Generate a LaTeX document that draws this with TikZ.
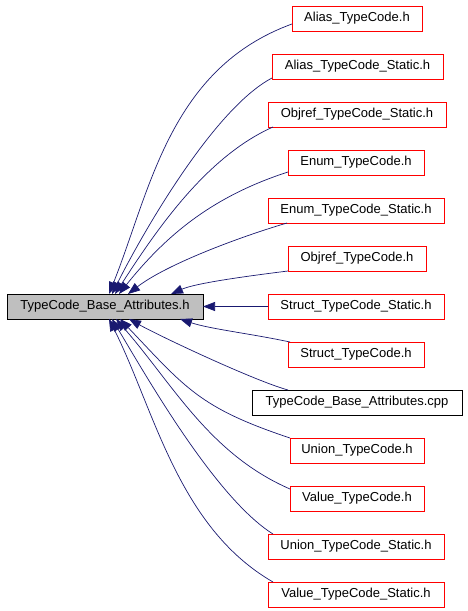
\documentclass[tikz,border=0pt]{standalone}
\usepackage{fontspec}
\setmainfont{Liberation Sans}
\usetikzlibrary{arrows.meta}
\definecolor{edgeblue}{HTML}{191970}
\definecolor{boxgray}{HTML}{BFBFBF}
\begin{document}
\begin{tikzpicture}[x=1pt,y=-1pt,
  fbox/.style={draw, line width=0.8pt, minimum height=25pt, inner sep=0pt, outer sep=0pt,
    font=\fontsize{13}{15}\selectfont, anchor=center},
  redbox/.style={fbox, draw=red},
  blackbox/.style={fbox, draw=black},
  mainbox/.style={fbox, draw=black, fill=boxgray},
  edge/.style={draw=edgeblue, line width=0.7pt, -{Triangle[length=12pt,width=9pt]}, edgeblue}
]
\useasboundingbox (0,0) rectangle (467,611);

\node[mainbox, minimum width=196pt] (main) at (105,306.5) {TypeCode\_Base\_Attributes.h};

\node[redbox, minimum width=130pt] (n1) at (357,18.5) {Alias\_TypeCode.h};
\node[redbox, minimum width=171pt] (n2) at (357.5,66.5) {Alias\_TypeCode\_Static.h};
\node[redbox, minimum width=178pt] (n3) at (357,114.5) {Objref\_TypeCode\_Static.h};
\node[redbox, minimum width=136pt] (n4) at (356,162.5) {Enum\_TypeCode.h};
\node[redbox, minimum width=176pt] (n5) at (356,210.5) {Enum\_TypeCode\_Static.h};
\node[redbox, minimum width=138pt] (n6) at (357,258.5) {Objref\_TypeCode.h};
\node[redbox, minimum width=176pt] (n7) at (356,306.5) {Struct\_TypeCode\_Static.h};
\node[redbox, minimum width=136pt] (n8) at (356,354.5) {Struct\_TypeCode.h};
\node[blackbox, minimum width=210pt] (n9) at (357,402.5) {TypeCode\_Base\_Attributes.cpp};
\node[redbox, minimum width=134pt] (n10) at (357,450.5) {Union\_TypeCode.h};
\node[redbox, minimum width=134pt] (n11) at (357,498.5) {Value\_TypeCode.h};
\node[redbox, minimum width=176pt] (n12) at (356,546.5) {Union\_TypeCode\_Static.h};
\node[redbox, minimum width=176pt] (n13) at (356,594.5) {Value\_TypeCode\_Static.h};

\path[edge] ([yshift=-5.5pt]n1.west) .. controls (169.4,68.6) and (150.3,190.7) .. ([xshift=4pt]main.north);
\path[edge] ([yshift=1pt]n2.south west) .. controls (212.3,109.4) and (139.7,238.6) .. ([xshift=7pt]main.north);
\path[edge] ([xshift=5pt]n3.south west) .. controls (205,157.2) and (154.9,232.6) .. ([xshift=10pt]main.north);
\path[edge] ([yshift=3pt]n4.south west) .. controls (212.7,196.3) and (166.2,235) .. ([xshift=14pt]main.north);
\path[edge] ([xshift=19pt]n5.south west) .. controls (240.4,236.7) and (167,264) .. ([xshift=23pt]main.north);
\path[edge] (n6.south west) .. controls (248,276) and (196,283) .. ([xshift=66pt]main.north);
\path[edge] (n7.west) -- (main.east);
\path[edge] ([xshift=2pt]n8.north west) .. controls (250,333.5) and (210,329) .. ([xshift=75pt]main.south);
\path[edge] ([xshift=36pt]n9.north west) .. controls (253.8,380.5) and (160.5,336.5) .. ([xshift=24pt]main.south);
\path[edge] (n10.north west) .. controls (199.1,407.7) and (185.7,388) .. ([xshift=15pt]main.south);
\path[edge] ([yshift=-3pt]n11.north west) .. controls (209.3,453.9) and (173,384.2) .. ([xshift=11pt]main.south);
\path[edge] ([xshift=5pt]n12.north west) .. controls (215.4,498) and (145.6,375) .. ([xshift=7pt]main.south);
\path[edge] ([xshift=5pt]n13.north west) .. controls (178,527.1) and (154.7,410.4) .. ([xshift=4pt]main.south);
\end{tikzpicture}
\end{document}
